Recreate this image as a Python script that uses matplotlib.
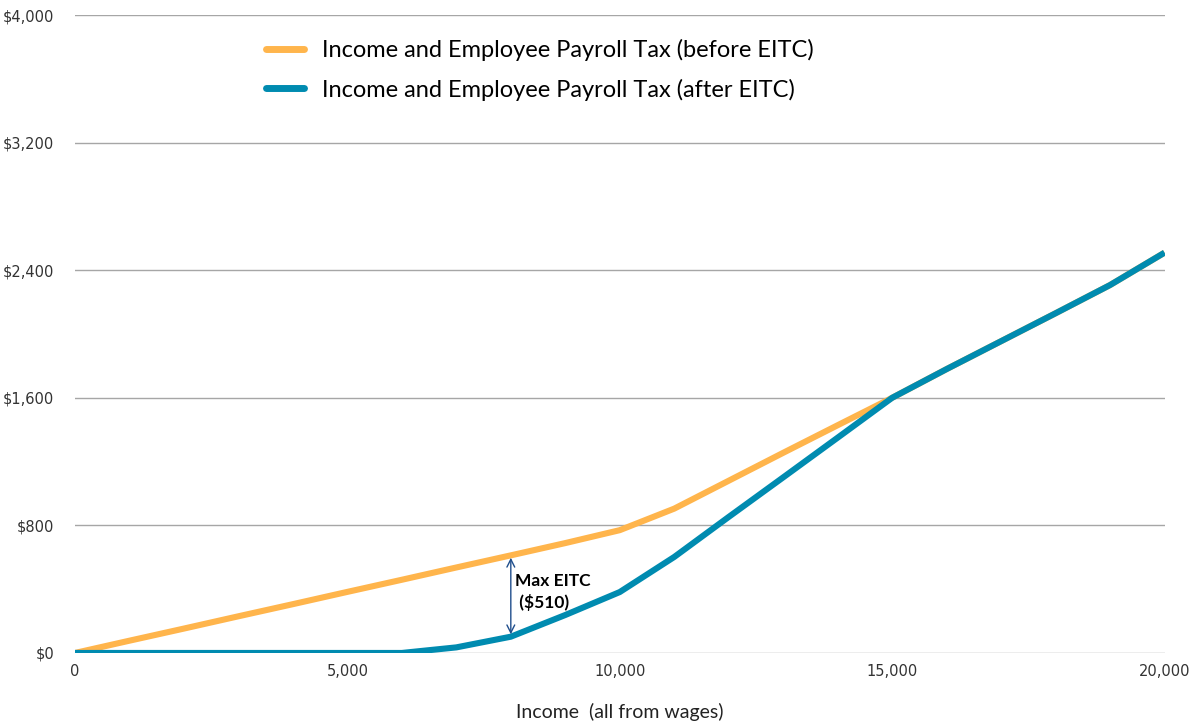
import numpy as np
import matplotlib.pyplot as plt
from matplotlib.ticker import FuncFormatter

# Tax owed at each income level (wages only), in dollars
income = [0, 1000, 2000, 3000, 4000, 5000, 6000, 7000, 8000, 9000, 10000,
          11000, 12000, 13000, 14000, 15000, 16000, 17000, 18000, 19000, 20000]
tax_before_eitc = [0, 77, 153, 230, 306, 383, 459, 536, 612, 689, 770,
                   905, 1080, 1255, 1428, 1600, 1780, 1955, 2130, 2307, 2510]
tax_after_eitc = [0, 0, 0, 0, 0, 0, 0, 35, 102, 238, 382,
                  602, 853, 1101, 1350, 1600, 1780, 1955, 2130, 2307, 2510]
max_eitc_income = 8000
max_eitc_label = "Max EITC\n ($510)"

orange = "#FFB54C"
blue = "#008BB0"

fig = plt.figure(figsize=(11.96, 7.26), dpi=100)
ax = fig.add_axes([0.0627, 0.1006, 0.911, 0.8787])

ax.plot(income, tax_before_eitc, color=orange, lw=4.4, solid_capstyle="butt",
        label="Income and Employee Payroll Tax (before EITC)", zorder=3)
ax.plot(income, tax_after_eitc, color=blue, lw=4.4, solid_capstyle="butt",
        label="Income and Employee Payroll Tax (after EITC)", zorder=4)

ax.set_xlim(0, 20000)
ax.set_ylim(0, 4000)
ax.set_xticks([0, 5000, 10000, 15000, 20000])
ax.set_yticks(np.arange(0, 4001, 800))
ax.xaxis.set_major_formatter(FuncFormatter(lambda v, p: f"{int(v):,}"))
ax.yaxis.set_major_formatter(FuncFormatter(lambda v, p: f"${int(v):,}"))
ax.tick_params(length=0, labelsize=10.5, labelcolor="#333333")
ax.tick_params(axis="y", pad=15)
ax.tick_params(axis="x", pad=8)
ax.grid(axis="y", color="#a6a6a6", lw=1.0, zorder=0)
for s in ax.spines.values():
    s.set_visible(False)

ax.set_xlabel("Income  (all from wages)", fontsize=14, family="Lato",
              color="#222222", labelpad=17)

# double-headed arrow marking the largest credit
i = income.index(max_eitc_income)
ax.annotate("", xy=(max_eitc_income, tax_after_eitc[i] + 15),
            xytext=(max_eitc_income, tax_before_eitc[i] - 15),
            arrowprops=dict(arrowstyle="<->", color="#1F4E8C", lw=1.0,
                            shrinkA=0, shrinkB=0, mutation_scale=14), zorder=5)
ax.text(max_eitc_income + 80, (tax_before_eitc[i] + tax_after_eitc[i]) / 2 + 25,
        max_eitc_label, fontsize=12.5, fontweight="bold", family="Lato",
        va="center", ha="left", linespacing=1.3)

leg = ax.legend(loc="upper left", bbox_to_anchor=(0.156, 0.996), frameon=False,
                prop={"family": "Lato", "size": 17}, handlelength=1.6,
                labelspacing=0.75, handletextpad=0.75)
for line in leg.get_lines():
    line.set_linewidth(5)
    line.set_solid_capstyle("round")

fig.savefig("out.png", dpi=100)
